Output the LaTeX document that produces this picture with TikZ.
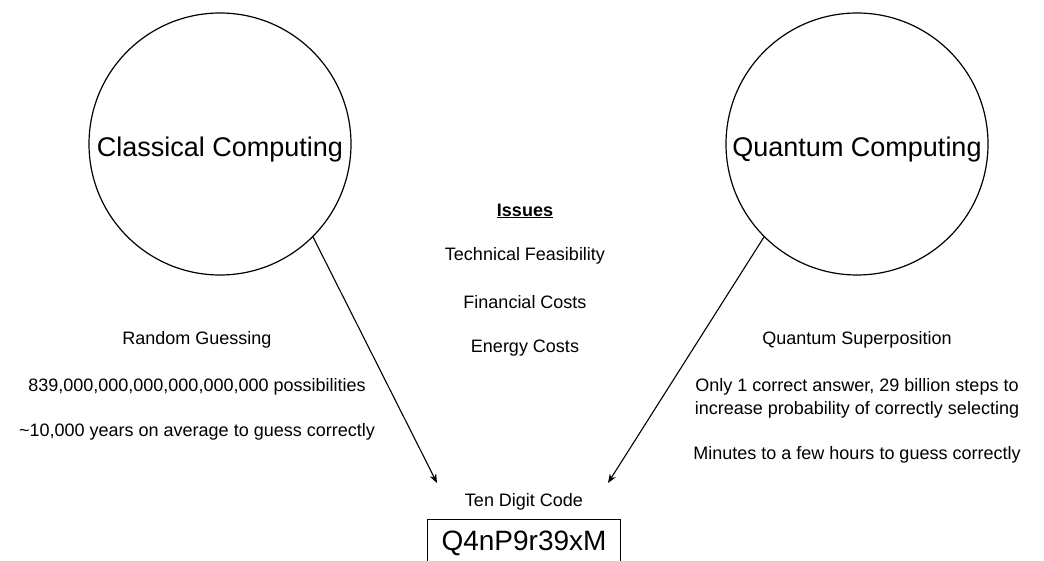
\documentclass[tikz,border=0pt]{standalone}
\usepackage{fontspec}
\setmainfont{Liberation Sans}
\usetikzlibrary{arrows.meta}

\begin{document}
\begin{tikzpicture}[x=1pt,y=-1pt,
    bigcircle/.style={draw,circle,line width=1.2pt,minimum size=262pt,inner sep=0pt,
        text height=25pt,text depth=0pt,font=\fontsize{27}{32}\selectfont},
    txt/.style={align=center,font=\fontsize{18}{23}\selectfont},
    arr/.style={line width=1.1pt,-{Stealth[length=9pt,width=7pt]}}]
\useasboundingbox (0,0) rectangle (1044,561);

\node[bigcircle] (classical) at (220,144) {Classical Computing};
\node[bigcircle] (quantum) at (857,144) {Quantum Computing};

\node[txt] (issues) at (525,211) {\underline{\textbf{Issues}}};
\node[txt] (technical) at (525,256) {Technical Feasibility};
\node[txt] (financial) at (525,302) {Financial Costs};
\node[txt] (energy) at (525,348) {Energy Costs};

\node[txt] (random) at (197,340) {Random Guessing};
\node[txt] (possib) at (197,387) {839,000,000,000,000,000,000 possibilities};
\node[txt] (years) at (197,432) {\textasciitilde10,000 years on average to guess correctly};

\node[txt] (superpos) at (857,340) {Quantum Superposition};
\node[txt] (steps) at (857,398) {Only 1 correct answer, 29 billion steps to\\increase probability of correctly selecting};
\node[txt] (minutes) at (857,455) {Minutes to a few hours to guess correctly};

\node[txt] (tendigit) at (524,502) {Ten Digit Code};
\node[draw,line width=1.2pt,minimum width=193pt,minimum height=60pt,anchor=north] (code) at (524,519) {};
\node (codetext) at (524,543) {\fontsize{28}{32}\selectfont Q4nP9r39xM};

\coordinate (lefttip) at (437,483);
\coordinate (righttip) at (608,483);
\draw[arr] (classical.-45) -- (lefttip);
\draw[arr] (quantum.-135) -- (righttip);
\end{tikzpicture}
\end{document}
